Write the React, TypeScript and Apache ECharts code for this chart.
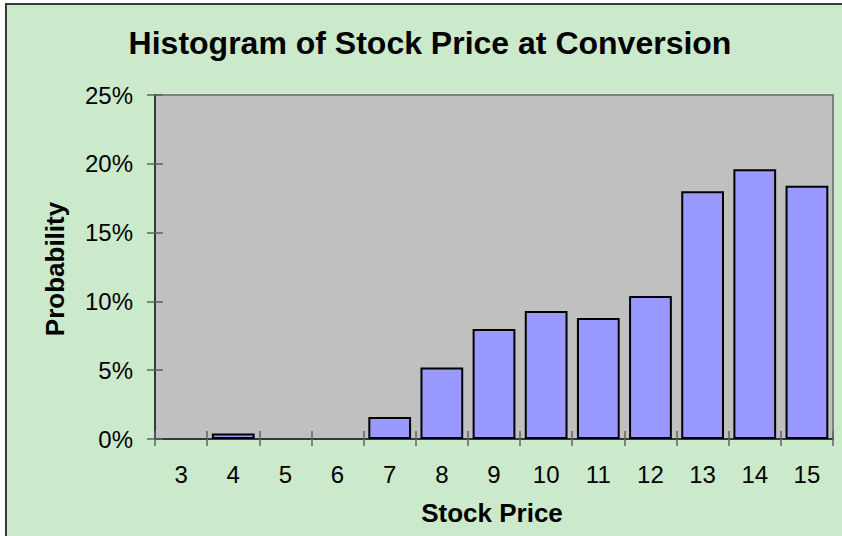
import React, { useEffect, useRef } from "react";
import * as echarts from "echarts";

const categories = ["3", "4", "5", "6", "7", "8", "9", "10", "11", "12", "13", "14", "15"];
const probabilities = [0, 0.004, 0, 0, 0.016, 0.052, 0.08, 0.093, 0.088, 0.104, 0.18, 0.196, 0.184];
const chartTitle = "Histogram of Stock Price at Conversion";
const xTitle = "Stock Price";
const yTitle = "Probability";

export default function App() {
  const ref = useRef<HTMLDivElement>(null);
  useEffect(() => {
    if (!ref.current) return;
    const chart = echarts.init(ref.current, null, { renderer: "svg" });
    const font = "Liberation Sans, Arial, sans-serif";
    const yFmt = (v: number) => Math.round(v * 100) + "%";
    const barData = probabilities.map((v) =>
      v === 0 ? { value: v, itemStyle: { borderWidth: 0 } } : { value: v }
    );
    chart.setOption({
      animation: false,
      backgroundColor: "#ffffff",
      graphic: [
        {
          type: "rect",
          z: -10,
          silent: true,
          shape: { x: 6, y: 4, width: 880, height: 560 },
          style: { fill: "#CBE9CB", stroke: "#3a3a3a", lineWidth: 2 },
        },
        {
          type: "text",
          x: 55,
          y: 269,
          rotation: Math.PI / 2,
          style: {
            text: yTitle,
            fontFamily: font,
            fontWeight: "bold",
            fontSize: 26,
            fill: "#000",
            textAlign: "center",
            textVerticalAlign: "middle",
          },
        },
        {
          type: "text",
          x: 492,
          y: 513,
          style: {
            text: xTitle,
            fontFamily: font,
            fontWeight: "bold",
            fontSize: 26,
            fill: "#000",
            textAlign: "center",
            textVerticalAlign: "middle",
          },
        },
      ],
      title: {
        text: chartTitle,
        left: 430,
        top: 27,
        textAlign: "center",
        padding: 0,
        textStyle: { fontFamily: font, fontWeight: "bold", fontSize: 32, color: "#000" },
      },
      grid: {
        left: 155,
        top: 95,
        right: 9,
        bottom: 97,
        show: true,
        backgroundColor: "#C0C0C0",
        borderColor: "#808080",
        borderWidth: 2,
      },
      xAxis: [
        {
          type: "category",
          data: categories,
          position: "bottom",
          axisLine: { show: true, lineStyle: { color: "#383838", width: 2 } },
          axisTick: { show: true, inside: false, length: 7, lineStyle: { color: "#606060", width: 1.5 } },
          axisLabel: { fontFamily: font, fontSize: 24, color: "#000", margin: 23 },
          splitLine: { show: false },
        },
        {
          type: "category",
          data: categories,
          position: "bottom",
          axisLine: { show: false },
          axisTick: { show: true, inside: true, length: 8, lineStyle: { color: "#606060", width: 1.5 } },
          axisLabel: { show: false },
          splitLine: { show: false },
        },
      ],
      yAxis: [
        {
          type: "value",
          min: 0,
          max: 0.25,
          interval: 0.05,
          position: "left",
          axisLine: { show: true, lineStyle: { color: "#383838", width: 2 } },
          axisTick: { show: true, inside: false, length: 8, lineStyle: { color: "#606060", width: 1.5 } },
          axisLabel: { fontFamily: font, fontSize: 24, color: "#000", margin: 22, formatter: yFmt },
          splitLine: { show: false },
        },
        {
          type: "value",
          min: 0,
          max: 0.25,
          interval: 0.05,
          position: "left",
          axisLine: { show: false },
          axisTick: { show: true, inside: true, length: 8, lineStyle: { color: "#606060", width: 1.5 } },
          axisLabel: { show: false },
          splitLine: { show: false },
        },
      ],
      series: [
        {
          type: "bar",
          data: barData,
          xAxisIndex: 0,
          yAxisIndex: 0,
          barCategoryGap: "18%",
          itemStyle: { color: "#9999FF", borderColor: "#000", borderWidth: 2 },
          emphasis: { disabled: true },
        },
      ],
    });
    return () => chart.dispose();
  }, []);
  return (
    <div
      ref={ref}
      style={{ position: "fixed", left: 0, top: 0, width: 842, height: 536 }}
    />
  );
}
